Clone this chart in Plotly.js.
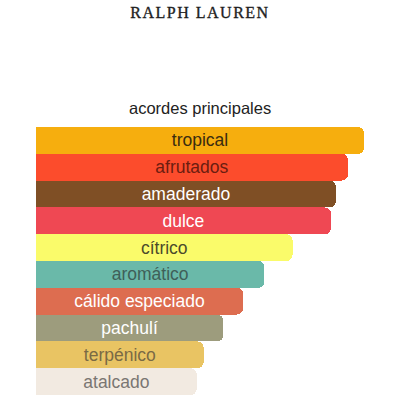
<!DOCTYPE html>
<html>
<head>
<meta charset="utf-8">
<script src="https://cdn.plot.ly/plotly-3.0.1.min.js"></script>
<style>
  html, body { margin: 0; padding: 0; background: #ffffff; }
  #chart { width: 400px; height: 400px; }
  .gtitle { letter-spacing: 1.5px; stroke: #1e1e1e; stroke-width: 0.35px; }
</style>
</head>
<body>
<div id="chart"></div>
<script>
  // main accords, top to bottom
  var accords = ['tropical', 'afrutados', 'amaderado', 'dulce', 'cítrico',
    'aromático', 'cálido especiado', 'pachulí', 'terpénico', 'atalcado'];
  var strength = [100, 95.1, 91.4, 89.9, 78.2, 69.6, 63.1, 57.1, 51.1, 49.0];
  var barColors = ['#f6ae0e', '#fc4c2c', '#7f4f25', '#ef4853', '#fafb6a',
    '#6ab9a9', '#dd6d50', '#9d9c7d', '#e9c463', '#f2eae1'];
  var labelColors = ['#3a2c10', '#6b1d10', '#ffffff', '#ffffff', '#4a4a2a',
    '#3f5f58', '#ffffff', '#ffffff', '#7a6a45', '#7a7672'];

  var trace = {
    type: 'bar',
    orientation: 'h',
    x: strength,
    y: accords,
    text: accords,
    textposition: 'inside',
    insidetextanchor: 'middle',
    textangle: 0,
    constraintext: 'none',
    textfont: { family: '"Liberation Sans", Arial, sans-serif', size: 17.5, color: labelColors },
    marker: { color: barColors, line: { width: 0 }, cornerradius: 6 },
    hoverinfo: 'skip'
  };

  var layout = {
    width: 400,
    height: 400,
    margin: { t: 127, r: 36, b: 5, l: 36 },
    paper_bgcolor: '#ffffff',
    plot_bgcolor: '#ffffff',
    showlegend: false,
    bargap: 0,
    title: {
      text: 'RALPH LAUREN',
      font: { family: '"Liberation Serif", "DejaVu Serif", serif', size: 16, color: '#1e1e1e' },
      x: 0.5,
      xanchor: 'center',
      y: 0.97,
      yref: 'container',
      yanchor: 'middle'
    },
    xaxis: {
      range: [0, 100],
      visible: false,
      fixedrange: true
    },
    yaxis: {
      categoryorder: 'array',
      categoryarray: accords,
      autorange: 'reversed',
      visible: false,
      fixedrange: true
    },
    annotations: [{
      text: 'acordes principales',
      xref: 'paper',
      yref: 'paper',
      x: 0.5,
      y: 1.071,
      xanchor: 'center',
      yanchor: 'middle',
      showarrow: false,
      font: { family: '"Liberation Sans", Arial, sans-serif', size: 16.5, color: '#222222' }
    }]
  };

  Plotly.newPlot('chart', [trace], layout, { staticPlot: true, displayModeBar: false });
</script>
</body>
</html>
